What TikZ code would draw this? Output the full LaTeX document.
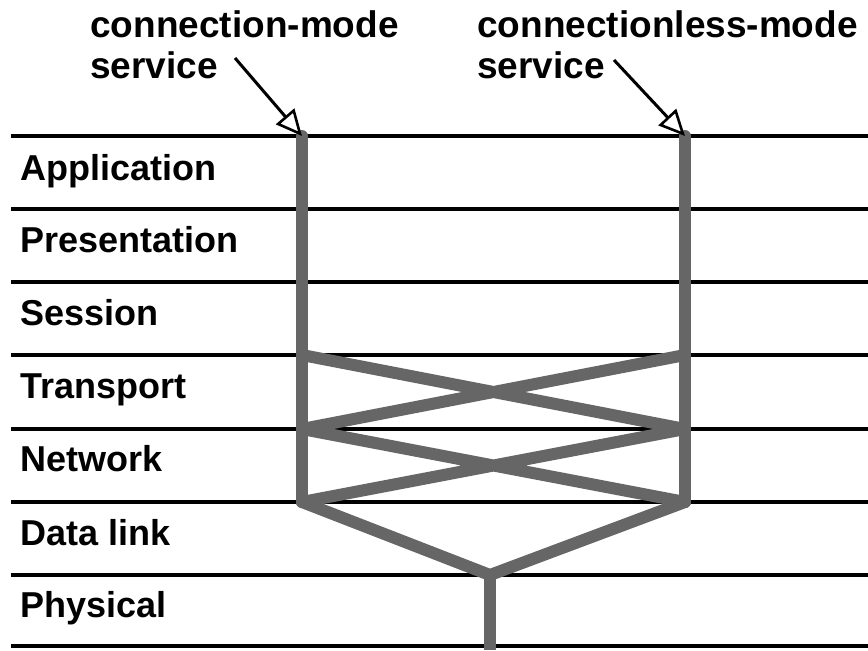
\documentclass[tikz,border=0pt]{standalone}
\usepackage{fontspec}
\setmainfont{Liberation Sans}
\usetikzlibrary{arrows.meta}
\tikzset{
  layer/.style={anchor=base west,inner sep=0pt,font=\bfseries\fontsize{18}{21}\selectfont},
  svc/.style={anchor=base west,inner sep=0pt,font=\bfseries\fontsize{18.5}{21}\selectfont},
  boundary/.style={line width=1.6pt},
  route/.style={line width=6pt,draw=black!60,line cap=round,line join=round},
  pointer/.style={line width=1.5pt,-{Triangle[open,length=13pt,width=12pt,line width=1.3pt]}}
}
\begin{document}
\begin{tikzpicture}[x=0.5pt,y=-0.5pt]
		\useasboundingbox (0,0) rectangle (868,650);
		% layer boundaries
		\foreach \y in {136,209,282,355,429,502,575,646}
			\draw[boundary] (11,\y) -- (868,\y);
		% layer names
		\node[layer] (app) at (20,180) {Application};
		\node[layer] (pres) at (20,252) {Presentation};
		\node[layer] (sess) at (20,325) {Session};
		\node[layer] (trans) at (20,398) {Transport};
		\node[layer] (net) at (20,471) {Network};
		\node[layer] (dl) at (20,545) {Data link};
		\node[layer] (phys) at (20,617) {Physical};
		% service labels
		\node[svc] (comode) at (90,37) {connection-mode};
		\node[svc] (cosvc) at (90,78) {service};
		\node[svc] (clmode) at (477,37) {connectionless-mode};
		\node[svc] (clsvc) at (477,78) {service};
		% points on the routes
		\coordinate (cotop) at (302,136);
		\coordinate (cltop) at (685,136);
		\coordinate (l4) at (302,355);
		\coordinate (l5) at (302,429);
		\coordinate (l6) at (302,502);
		\coordinate (r4) at (685,355);
		\coordinate (r5) at (685,429);
		\coordinate (r6) at (685,502);
		\coordinate (mid) at (490,575);
		\coordinate (bot) at (490,650);
		\coordinate (costart) at (235,58);
		\coordinate (clstart) at (614,60);
		% routes
		\draw[route] (cotop) -- (l6);
		\draw[route] (cltop) -- (r6);
		\draw[route] (l4) -- (r5) (r4) -- (l5);
		\draw[route] (l5) -- (r6) (r5) -- (l6);
		\draw[route] (l6) -- (mid) -- (r6);
		\draw[route,line cap=butt] (mid) -- (bot);
		% arrows
		\draw[pointer] (costart) -- (cotop);
		\draw[pointer] (clstart) -- (cltop);
\end{tikzpicture}
\end{document}
